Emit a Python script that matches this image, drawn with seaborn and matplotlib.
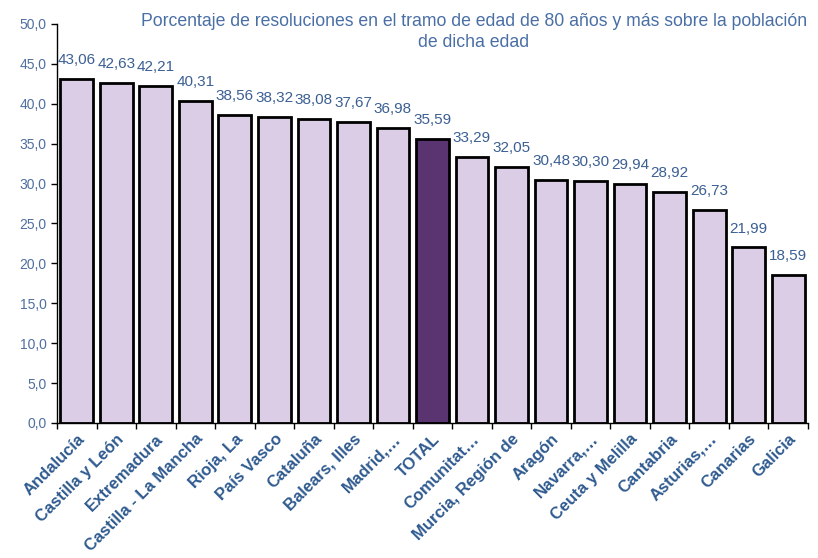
import matplotlib
matplotlib.use("Agg")
import matplotlib.pyplot as plt
import seaborn as sns
import numpy as np
import pandas as pd
from matplotlib.ticker import FixedLocator, FuncFormatter

categories = ["Andalucía", "Castilla y León", "Extremadura", "Castilla - La Mancha",
              "Rioja, La", "País Vasco", "Cataluña", "Balears, Illes", "Madrid,…",
              "TOTAL", "Comunitat…", "Murcia, Región de", "Aragón", "Navarra,…",
              "Ceuta y Melilla", "Cantabria", "Asturias,…", "Canarias", "Galicia"]
values = [43.06, 42.63, 42.21, 40.31, 38.56, 38.32, 38.08, 37.67, 36.98,
          35.59, 33.29, 32.05, 30.48, 30.30, 29.94, 28.92, 26.73, 21.99, 18.59]
title = "Porcentaje de resoluciones en el tramo de edad de 80 años y más sobre la población\nde dicha edad"

sns.set_theme(style="white")
plt.rcParams['font.family'] = ['Liberation Sans', 'DejaVu Sans']

df = pd.DataFrame({"cat": categories, "val": values})
light = "#dccde6"
dark = "#5a3470"
palette = {c: (dark if c == "TOTAL" else light) for c in categories}

fig = plt.figure(figsize=(8.18, 5.58), dpi=100)
ax = fig.add_axes([0.0697, 0.242, 0.918, 0.715])
sns.barplot(data=df, x="cat", y="val", hue="cat", palette=palette, legend=False,
            edgecolor="black", linewidth=2.0, width=0.83, saturation=1, ax=ax)

ax.set_ylim(0, 50)
ax.set_xlim(-0.5, len(categories) - 0.5)
ax.set_yticks(np.arange(0, 50.1, 5))
ax.yaxis.set_major_formatter(FuncFormatter(lambda v, p: f"{v:.1f}".replace(".", ",")))
ax.tick_params(axis="y", colors="black", labelcolor="#4f6f9f", labelsize=10,
               direction="out", length=4, width=1, left=True)
ax.set_xticks(range(len(categories)))
ax.set_xticklabels(categories, rotation=45, ha="right", rotation_mode="anchor",
                   fontsize=12, fontweight="bold", color="#2f5a8f")
ax.tick_params(axis="x", which="major", length=0, pad=6)
ax.xaxis.set_minor_locator(FixedLocator(np.arange(-0.5, len(categories), 1)))
ax.tick_params(axis="x", which="minor", length=4, width=1, direction="out",
               bottom=True, color="black")
for s in ["top", "right"]:
    ax.spines[s].set_visible(False)
for s in ["left", "bottom"]:
    ax.spines[s].set_color("black")
    ax.spines[s].set_linewidth(1)
ax.set_xlabel("")
ax.set_ylabel("")

for i, v in enumerate(values):
    ax.text(i, v + 1.5, f"{v:.2f}".replace(".", ","), ha="center", va="bottom",
            fontsize=11, color="#3b5f93")

fig.text(0.579, 0.977, title, ha="center", va="top",
         fontsize=12.7, color="#4a6fa5", linespacing=1.35)

fig.savefig("out.png", dpi=100)
